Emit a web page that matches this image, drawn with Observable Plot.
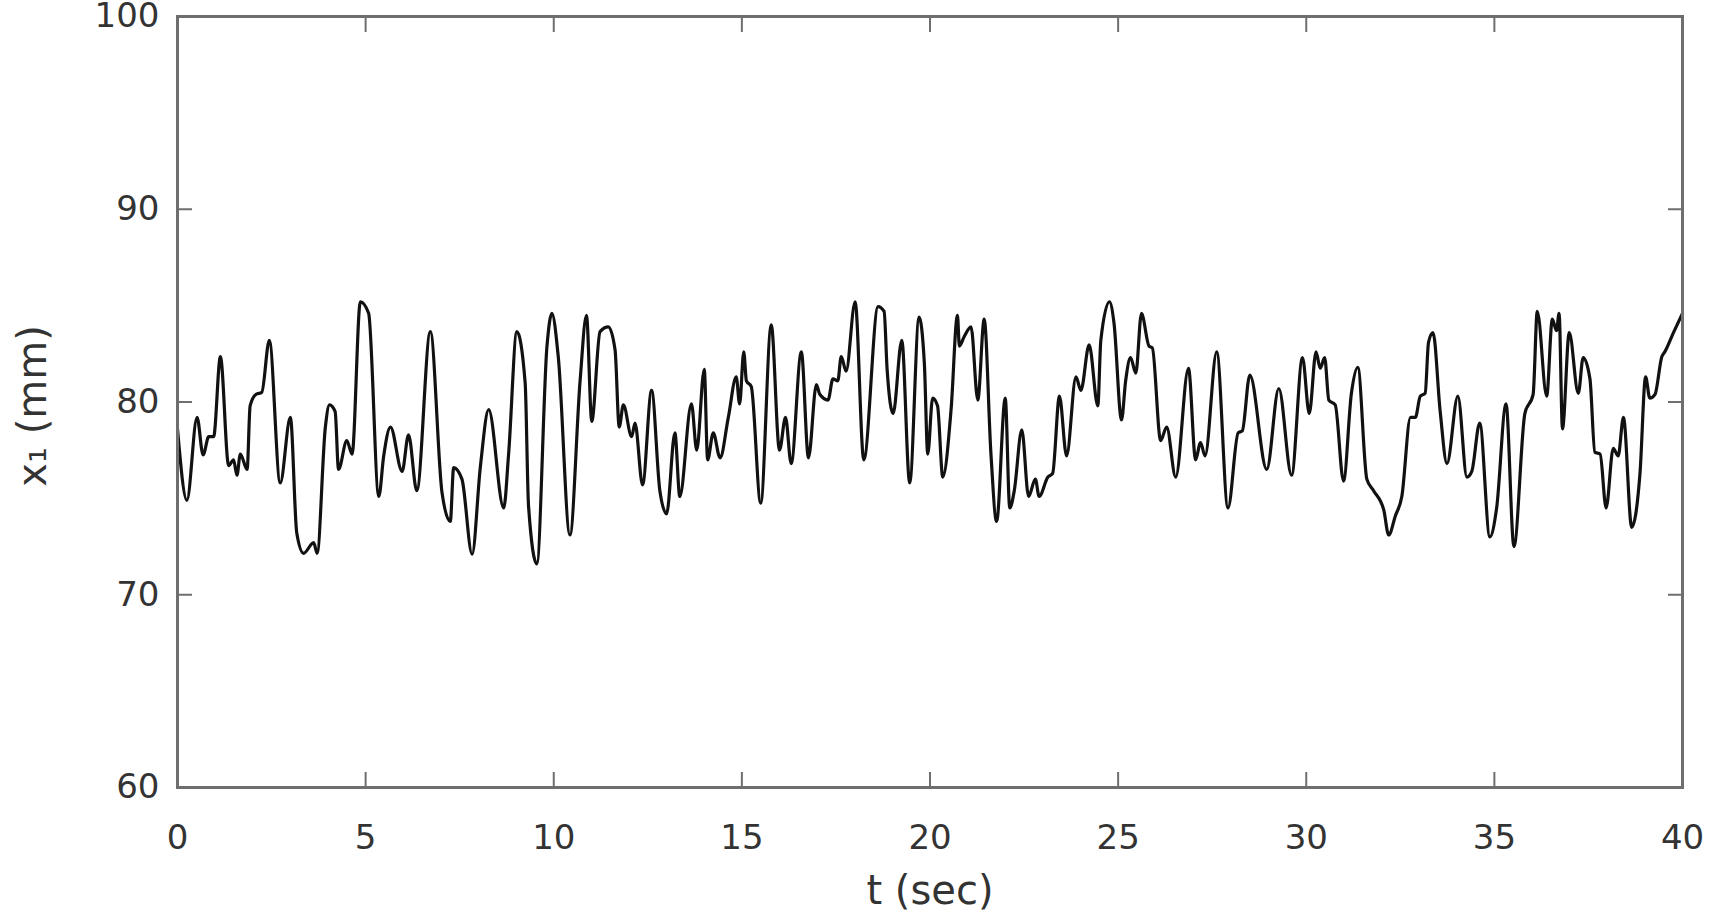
<!DOCTYPE html>
<html>
<head>
<meta charset="utf-8">
<script src="https://cdn.jsdelivr.net/npm/d3@7"></script>
<script src="https://cdn.jsdelivr.net/npm/@observablehq/plot@0.6"></script>
<style>
  html, body { margin: 0; padding: 0; background: #fff; }
  #chart svg { display: block; }
</style>
</head>
<body>
<div id="chart"></div>
<script>
// time (sec)
const tValues = [
  0.0, 0.25, 0.52, 0.68, 0.83, 0.96, 1.14, 1.36, 1.49, 1.58, 1.67, 1.85, 1.93, 2.09, 2.24, 2.44, 2.73, 3.0, 3.17, 3.35,
  3.62, 3.71, 3.93, 4.04, 4.19, 4.28, 4.50, 4.64, 4.86, 5.08, 5.35, 5.48, 5.66, 5.97, 6.14, 6.36, 6.72, 7.03, 7.25, 7.34,
  7.56, 7.83, 8.05, 8.27, 8.67, 8.80, 9.02, 9.24, 9.33, 9.55, 9.82, 9.95, 10.12, 10.43, 10.70, 10.87, 11.01, 11.23, 11.45, 11.63,
  11.74, 11.85, 12.07, 12.16, 12.36, 12.6, 12.82, 13.0, 13.22, 13.35, 13.66, 13.8, 14.0, 14.09, 14.24, 14.42, 14.64, 14.85, 14.94, 15.05,
  15.12, 15.25, 15.50, 15.78, 16.0, 16.16, 16.31, 16.58, 16.77, 16.98, 17.07, 17.29, 17.42, 17.55, 17.64, 17.77, 18.01, 18.24, 18.62, 18.78,
  18.86, 19.02, 19.25, 19.46, 19.71, 19.85, 19.94, 20.07, 20.2, 20.34, 20.56, 20.73, 20.78, 20.91, 21.09, 21.27, 21.44, 21.62, 21.77, 22.0,
  22.12, 22.24, 22.44, 22.62, 22.8, 22.9, 23.13, 23.26, 23.44, 23.63, 23.88, 24.01, 24.23, 24.46, 24.54, 24.77, 24.89, 25.09, 25.2, 25.33,
  25.47, 25.62, 25.82, 25.91, 26.13, 26.29, 26.53, 26.87, 27.06, 27.19, 27.31, 27.62, 27.92, 28.19, 28.3, 28.5, 28.95, 29.27, 29.61, 29.9,
  30.08, 30.26, 30.37, 30.49, 30.6, 30.77, 30.99, 31.2, 31.37, 31.61, 31.79, 32.06, 32.19, 32.37, 32.54, 32.77, 32.9, 33.03, 33.16, 33.25,
  33.37, 33.56, 33.74, 34.03, 34.27, 34.4, 34.61, 34.88, 35.06, 35.31, 35.52, 35.81, 36.03, 36.14, 36.39, 36.54, 36.65, 36.72, 36.81, 36.99,
  37.23, 37.36, 37.54, 37.67, 37.81, 37.97, 38.16, 38.29, 38.43, 38.65, 38.87, 39.02, 39.13, 39.27, 39.45, 39.53, 39.76, 40.0
];
// x1 (mm)
const x1Values = [
  78.6, 74.9, 79.2, 77.25, 78.2, 78.2, 82.35, 76.7, 77.0, 76.2, 77.3, 76.5, 79.8, 80.4, 80.5, 83.2, 75.8, 79.2, 73.2, 72.15,
  72.7, 72.15, 78.7, 79.85, 79.5, 76.5, 78.0, 77.3, 85.2, 84.6, 75.1, 77.2, 78.7, 76.4, 78.3, 75.4, 83.65, 75.3, 73.8, 76.6,
  76.0, 72.1, 76.65, 79.6, 74.5, 77.3, 83.65, 81.0, 74.6, 71.6, 82.9, 84.6, 82.35, 73.1, 81.1, 84.5, 79.0, 83.65, 83.9, 82.7,
  78.7, 79.85, 78.2, 78.9, 75.7, 80.6, 75.4, 74.2, 78.4, 75.1, 79.9, 77.5, 81.7, 77.0, 78.4, 77.1, 79.2, 81.3, 79.9, 82.6,
  81.1, 80.8, 74.75, 84.0, 77.5, 79.2, 76.8, 82.6, 77.1, 80.9, 80.4, 80.1, 81.2, 81.1, 82.35, 81.6, 85.2, 77.0, 84.95, 84.7,
  81.7, 79.4, 83.2, 75.8, 84.4, 82.0, 77.3, 80.2, 79.8, 76.1, 79.6, 84.5, 82.9, 83.4, 83.9, 80.1, 84.3, 77.3, 73.8, 80.2,
  74.5, 75.4, 78.55, 75.1, 76.0, 75.1, 76.1, 76.3, 80.3, 77.2, 81.3, 80.6, 82.96, 79.8, 83.2, 85.2, 84.1, 79.07, 81.1, 82.3,
  81.5, 84.6, 82.9, 82.8, 78.0, 78.7, 76.1, 81.75, 77.0, 77.9, 77.2, 82.6, 74.5, 78.4, 78.5, 81.4, 76.5, 80.7, 76.2, 82.3,
  79.4, 82.6, 81.75, 82.3, 80.1, 79.85, 75.9, 80.45, 81.8, 76.0, 75.4, 74.4, 73.1, 74.1, 75.1, 79.2, 79.2, 80.3, 80.45, 83.1,
  83.6, 79.5, 76.8, 80.3, 76.1, 76.4, 78.9, 73.0, 74.5, 79.9, 72.5, 79.4, 80.4, 84.7, 80.3, 84.3, 83.7, 84.6, 78.6, 83.6,
  80.45, 82.3, 81.2, 77.4, 77.3, 74.5, 77.6, 77.2, 79.2, 73.5, 76.3, 81.3, 80.2, 80.4, 82.35, 82.6, 83.6, 84.6
];
const xTicks = [0, 5, 10, 15, 20, 25, 30, 35, 40];
const yTicks = [60, 70, 80, 90, 100];
const xLabel = "t (sec)";
const yLabel = "x\u2081 (mm)";

const data = tValues.map((t, i) => ({t, v: x1Values[i]}));

const frameColor = "#6e6e6e";
const textColor = "#333333";

const chart = Plot.plot({
  width: 1715,
  height: 920,
  marginLeft: 177,
  marginRight: 33,
  marginTop: 16,
  marginBottom: 133,
  style: {fontFamily: "'DejaVu Sans', sans-serif", color: textColor, background: "#fff", overflow: "visible"},
  x: {domain: [0, 40]},
  y: {domain: [60, 100]},
  marks: [
    Plot.axisX(xTicks, {anchor: "bottom", tickSize: -15, tickPadding: 52, stroke: frameColor, strokeWidth: 2, fontSize: 34, fill: textColor, label: null}),
    Plot.axisX(xTicks, {anchor: "top", tickSize: -15, tickFormat: () => "", stroke: frameColor, strokeWidth: 2, label: null}),
    Plot.axisY(yTicks, {anchor: "left", tickSize: -15, tickPadding: 33, stroke: frameColor, strokeWidth: 2, fontSize: 34, fill: textColor, label: null}),
    Plot.axisY(yTicks, {anchor: "right", tickSize: -15, tickFormat: () => "", stroke: frameColor, strokeWidth: 2, label: null}),
    Plot.line(data, {x: "t", y: "v", stroke: "#111111", strokeWidth: 3.2, strokeLinejoin: "round", curve: "monotone-x"}),
    Plot.frame({stroke: frameColor, strokeWidth: 3}),
    Plot.text([xLabel], {frameAnchor: "bottom", textAnchor: "middle", lineAnchor: "middle", dy: 104, fontSize: 40, fill: textColor}),
    Plot.text([yLabel], {frameAnchor: "left", textAnchor: "middle", lineAnchor: "middle", dx: -144, dy: 4, rotate: -90, fontSize: 40, fill: textColor})
  ]
});
document.getElementById("chart").appendChild(chart);
</script>
</body>
</html>
